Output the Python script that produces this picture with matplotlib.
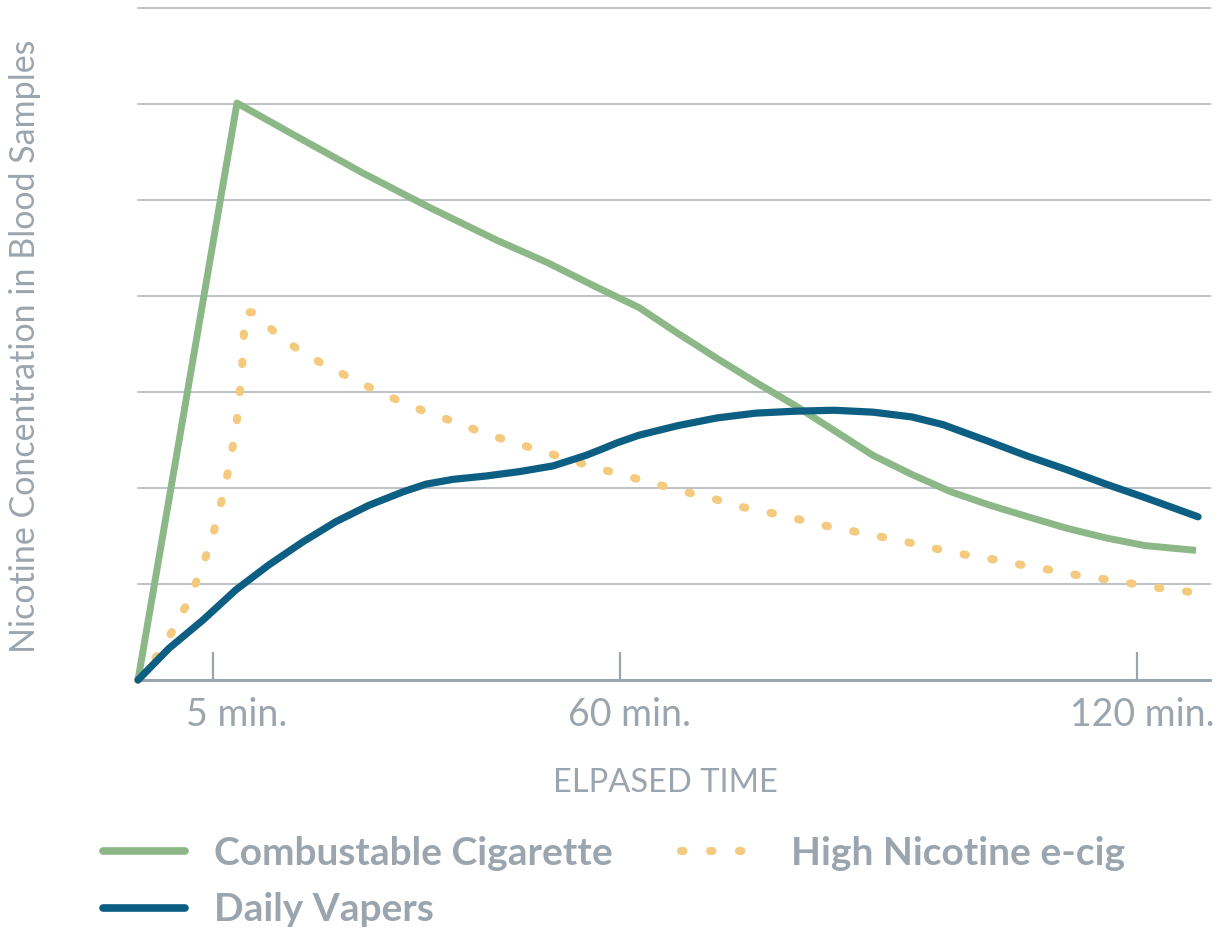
import matplotlib
matplotlib.use("Agg")
import matplotlib.pyplot as plt
from matplotlib.lines import Line2D
from matplotlib.transforms import blended_transform_factory, ScaledTranslation

# Horizontal position in chart units (axis spans 0..107.2), concentration in grid units
cig_x = [0, 9.9, 15.9, 22.5, 29.2, 35.9, 40.9, 45.9, 50.1, 54.0, 57.9, 61.8, 65.7,
         69.6, 73.5, 77.4, 81.3, 85.2, 89.0, 92.9, 96.8, 100.7, 105.8]
cig_y = [0, 6.01, 5.66, 5.28, 4.92, 4.58, 4.35, 4.09, 3.88, 3.61, 3.35, 3.10, 2.86,
         2.60, 2.34, 2.14, 1.96, 1.82, 1.70, 1.58, 1.48, 1.40, 1.35]

ecig_x = [0, 2.5, 5.2, 7.3, 8.7, 9.8, 10.4, 10.7, 11.5, 13.6, 15.9, 18.5, 21.2, 23.7,
          26.5, 29.1, 31.9, 34.6, 37.4, 40.2, 43.0, 45.8, 48.7, 51.5, 54.3, 57.2,
          60.0, 62.9, 65.8, 68.6, 71.5, 74.4, 77.2, 80.1, 83.0, 85.9, 88.8, 91.6,
          94.5, 97.4, 100.2, 103.2, 105.9]
ecig_y = [0, 0.33, 0.85, 1.43, 2.01, 2.61, 3.23, 3.83, 3.83, 3.63, 3.45, 3.29, 3.15, 3.02,
          2.89, 2.78, 2.68, 2.57, 2.48, 2.39, 2.30, 2.21, 2.13, 2.05, 1.97, 1.90,
          1.81, 1.75, 1.68, 1.61, 1.55, 1.49, 1.43, 1.36, 1.30, 1.25, 1.19, 1.14,
          1.08, 1.04, 0.99, 0.94, 0.91]

vape_x = [0, 3.1, 6.5, 9.8, 13.1, 16.5, 19.8, 23.1, 26.5, 28.8, 31.5, 34.8, 38.1, 41.5,
          44.8, 46.5, 47.9, 50.1, 54.0, 57.9, 61.8, 65.7, 69.6, 73.5, 77.4, 80.5,
          85.2, 89.0, 92.9, 96.8, 100.7, 106.0]
vape_y = [0, 0.33, 0.625, 0.94, 1.20, 1.44, 1.65, 1.82, 1.96, 2.04, 2.09, 2.125, 2.17, 2.23,
          2.34, 2.41, 2.47, 2.55, 2.65, 2.73, 2.78, 2.80, 2.81, 2.79, 2.74, 2.66,
          2.48, 2.33, 2.19, 2.04, 1.90, 1.70]

tick_pos = [7.5, 48.2, 99.9]
tick_labels = ["5 min.", "60 min.", "120 min."]
series_labels = ["Combustable Cigarette", "Daily Vapers", "High Nicotine e-cig"]

GREEN = "#8cb888"
BLUE = "#0c5f82"
YELLOW = "#f4ca7e"
GRAY = "#9ba5ae"
GRID = "#b0b7bf"

plt.rcParams['font.family'] = ['Lato', 'DejaVu Sans']

fig = plt.figure(figsize=(12.18, 9.3), dpi=100)
ax = fig.add_axes([138/1218, 250/930, 1072/1218, 672/930])

ax.set_xlim(0, 107.2)
ax.set_ylim(0, 7)

for y in range(1, 8):
    ax.axhline(y, color=GRID, lw=1.2, zorder=0, clip_on=False)

ax.plot(cig_x, cig_y, color=GREEN, lw=5.0, solid_joinstyle='round',
        solid_capstyle='butt', zorder=3, clip_on=False)
ax.plot(ecig_x, ecig_y, color=YELLOW, lw=5.8, linestyle=(0, (0.3, 3.2)),
        dash_capstyle='round', zorder=2, clip_on=False)
ax.plot(vape_x, vape_y, color=BLUE, lw=5.2, solid_capstyle='round',
        solid_joinstyle='round', zorder=4, clip_on=False)

for s in ['top', 'right', 'left']:
    ax.spines[s].set_visible(False)
ax.spines['bottom'].set_color(GRAY)
ax.spines['bottom'].set_linewidth(2.2)

ax.set_yticks([])
ax.set_xticks(tick_pos)
ax.set_xticklabels([])
ax.tick_params(axis='x', direction='in', length=20, width=1.6, color=GRAY)

# tick labels, each nudged right of its tick as in the original
label_shift_px = [24, 9, 5]
trans = blended_transform_factory(ax.transData, ax.transAxes)
for pos, lab, dx in zip(tick_pos, tick_labels, label_shift_px):
    ax.text(pos, 0, lab, transform=trans + ScaledTranslation(dx/100, -35/100, fig.dpi_scale_trans),
            ha='center', va='center', color=GRAY, fontsize=27)

fig.text(665/1218, 1 - 783/930, "ELPASED TIME", color=GRAY, fontsize=23.5,
         ha='center', va='center')
fig.text(25/1218, 1 - 346/930, "Nicotine Concentration in Blood Samples", rotation=90,
         color=GRAY, fontsize=24.5, ha='center', va='center')

handles = [
    Line2D([], [], color=GREEN, lw=5.5, solid_capstyle='round'),
    Line2D([], [], color=BLUE, lw=5.5, solid_capstyle='round'),
    Line2D([], [], color=YELLOW, lw=5.8, linestyle=(0, (0.3, 3.3)), dash_capstyle='round'),
]
leg = fig.legend(handles, series_labels, ncol=2, loc='upper left',
                 bbox_to_anchor=(103/1218, 1 - 836/930), frameon=False,
                 borderpad=0, borderaxespad=0,
                 handlelength=2.1, handletextpad=0.75, columnspacing=1.75,
                 labelspacing=0.55, prop={'size': 28, 'weight': 'bold'})
for t in leg.get_texts():
    t.set_color(GRAY)

fig.savefig("out.png", dpi=100)
